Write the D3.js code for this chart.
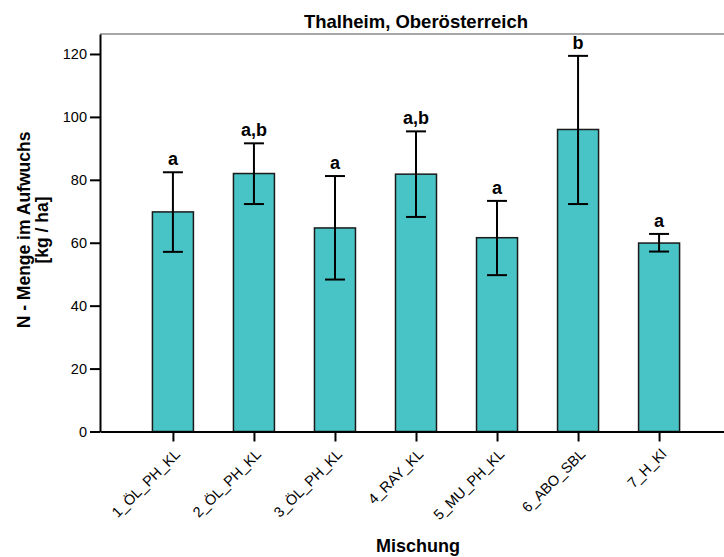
<!DOCTYPE html>
<html>
<head>
<meta charset="utf-8">
<script src="https://cdn.jsdelivr.net/npm/d3@7"></script>
<style>
  html, body { margin: 0; padding: 0; background: #fff; }
  svg { display: block; font-family: "Liberation Sans", Arial, sans-serif; }
</style>
</head>
<body>
<svg id="chart" width="724" height="557"></svg>
<script>
// Mixtures and N amount in the above-ground growth (kg/ha)
const categories = ["1_ÖL_PH_KL", "2_ÖL_PH_KL", "3_ÖL_PH_KL", "4_RAY_KL", "5_MU_PH_KL", "6_ABO_SBL", "7_H_Kl"];
const means      = [69.8, 82.0, 64.7, 81.8, 61.6, 96.0, 59.9];
const errHigh    = [82.4, 91.6, 81.2, 95.4, 73.3, 119.4, 62.8];
const errLow     = [57.1, 72.3, 48.3, 68.2, 49.7, 72.3, 57.2];
const groups     = ["a", "a,b", "a", "a,b", "a", "b", "a"];
const yTicks     = [0, 20, 40, 60, 80, 100, 120];

const title  = "Thalheim, Oberösterreich";
const xTitle = "Mischung";
const yTitle = ["N - Menge im Aufwuchs", "[kg / ha]"];

const svg = d3.select("#chart");
const plot = { left: 100, top: 34, bottom: 431.5, right: 732 };

const x = d3.scalePoint().domain(categories).range([plot.left, plot.right]).padding(0.9);
const y = d3.scaleLinear().domain([0, 126.35]).range([plot.bottom, plot.top]);
const barW = x.step() * 0.506;

const rows = categories.map((c, i) => ({ c, m: means[i], hi: errHigh[i], lo: errLow[i], g: groups[i] }));

// top frame line
svg.append("line")
  .attr("x1", plot.left).attr("x2", 724)
  .attr("y1", plot.top).attr("y2", plot.top)
  .attr("stroke", "#8a8a8a").attr("stroke-width", 1.5);

// bars
svg.append("g").selectAll("rect").data(rows).join("rect")
  .attr("x", d => x(d.c) - barW / 2)
  .attr("y", d => y(d.m))
  .attr("width", barW)
  .attr("height", d => y(0) - y(d.m))
  .attr("fill", "#48c3c6")
  .attr("stroke", "#1a1a1a")
  .attr("stroke-width", 1.5);

// error bars
const eb = svg.append("g").attr("stroke", "#000").attr("stroke-width", 2);
rows.forEach(d => {
  const cx = x(d.c);
  eb.append("line").attr("x1", cx).attr("x2", cx).attr("y1", y(d.hi)).attr("y2", y(d.lo));
  eb.append("line").attr("x1", cx - 10).attr("x2", cx + 10).attr("y1", y(d.hi)).attr("y2", y(d.hi));
  eb.append("line").attr("x1", cx - 10).attr("x2", cx + 10).attr("y1", y(d.lo)).attr("y2", y(d.lo));
});

// significance letters
svg.append("g").selectAll("text").data(rows).join("text")
  .attr("x", d => x(d.c))
  .attr("y", d => y(d.hi) - 7)
  .attr("text-anchor", "middle")
  .attr("font-size", 18).attr("font-weight", "bold")
  .text(d => d.g);

// y axis
const yAxis = svg.append("g")
  .attr("transform", `translate(${plot.left},0)`)
  .call(d3.axisLeft(y).tickValues(yTicks).tickSize(10).tickSizeOuter(0).tickPadding(3));
yAxis.attr("font-size", null).attr("font-family", null);
yAxis.select(".domain").attr("stroke", "#000").attr("stroke-width", 2);
yAxis.selectAll(".tick line").attr("stroke", "#000").attr("stroke-width", 2);
yAxis.selectAll(".tick text").style("font-size", "14.5px").attr("fill", "#000");

// x axis
const xAxis = svg.append("g")
  .attr("transform", `translate(0,${plot.bottom})`)
  .call(d3.axisBottom(x).tickSize(10).tickSizeOuter(0).tickPadding(0));
xAxis.attr("font-size", null).attr("font-family", null);
xAxis.select(".domain").attr("stroke", "#000").attr("stroke-width", 2);
xAxis.selectAll(".tick line").attr("stroke", "#000").attr("stroke-width", 2);
xAxis.selectAll(".tick text")
  .style("font-size", "14.5px").attr("fill", "#000")
  .attr("text-anchor", "end")
  .attr("x", 0).attr("y", 0).attr("dy", "0.35em")
  .attr("transform", "translate(4,20) rotate(-45)");

// titles
svg.append("text")
  .attr("x", 416).attr("y", 27.5)
  .attr("text-anchor", "middle")
  .attr("font-size", 18.5).attr("font-weight", "bold")
  .text(title);

svg.append("text")
  .attr("x", 418).attr("y", 552)
  .attr("text-anchor", "middle")
  .attr("font-size", 18).attr("font-weight", "bold")
  .text(xTitle);

const yt = svg.append("text")
  .attr("transform", "translate(30,230) rotate(-90)")
  .attr("text-anchor", "middle")
  .attr("font-size", 17.5).attr("font-weight", "bold");
yt.append("tspan").attr("x", 0).attr("y", 0).text(yTitle[0]);
yt.append("tspan").attr("x", 0).attr("y", 18).text(yTitle[1]);
</script>
</body>
</html>
